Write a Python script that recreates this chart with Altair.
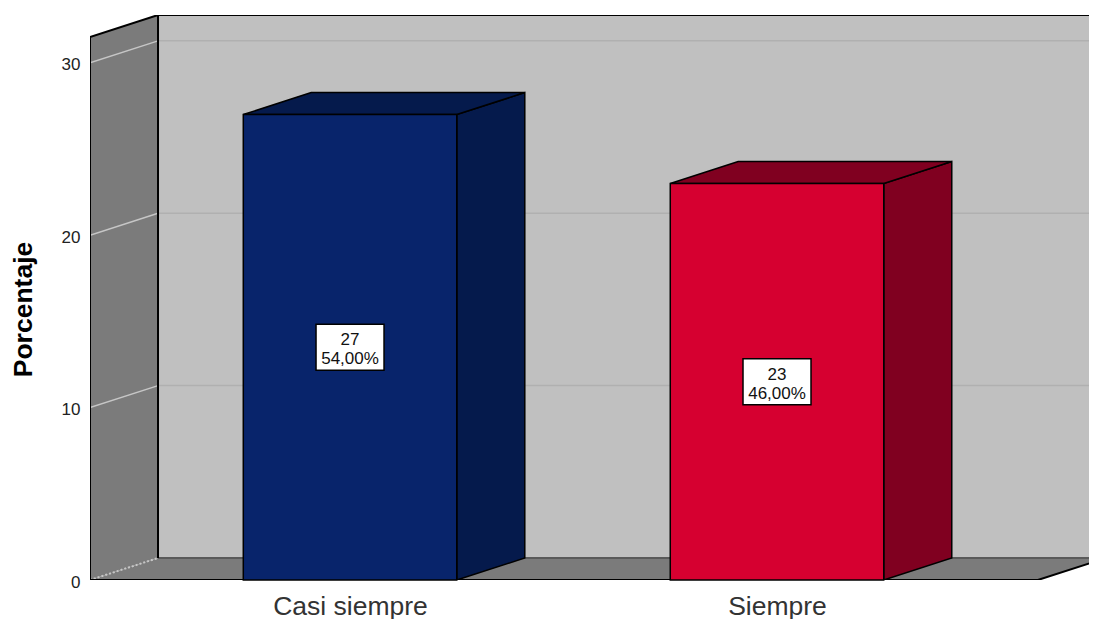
import altair as alt
import pandas as pd

# ---- chart values ----
categories = ["Casi siempre", "Siempre"]
counts = [27, 23]
shares = ["54,00%", "46,00%"]
front_colors = ["#08246b", "#d60030"]
side_colors = ["#051a4c", "#800020"]
y_ticks = [0, 10, 20, 30]

# ---- scene extents, in axis units ----
X_MIN, X_MAX = -0.609, 1.7307
FLOOR_END = 1.611
Y_TOP_FRONT = 31.5
DX, DY = 0.1593, 1.277
HALF = 0.25
Y_MAX = Y_TOP_FRONT + DY

xs = alt.Scale(domain=[X_MIN, X_MAX], nice=False, zero=False)
ys = alt.Scale(domain=[0, Y_MAX], nice=False, zero=False)
label_expr = "datum.value == 0 ? '%s' : '%s'" % tuple(categories)
x_axis = alt.Axis(
    values=[0, 1], labelExpr=label_expr, domain=False, ticks=False, grid=False,
    labelFontSize=26.5, labelFont="Liberation Sans", labelColor="#333333",
    labelPadding=34, title=None, labelBaseline="alphabetic")
y_axis = alt.Axis(
    values=y_ticks, format="d", domain=False, ticks=False, grid=False,
    labelFontSize=17, labelFont="Liberation Sans", labelColor="#222222",
    labelPadding=10, labelOffset=2, title="Porcentaje", titleFontSize=26.5,
    titleFont="Liberation Sans", titleFontWeight="bold", titleColor="#000000",
    titleX=-59, titleY=294, titleBaseline="alphabetic", titleAlign="center")
X = alt.X("x:Q", scale=xs, axis=x_axis)
Y = alt.Y("y:Q", scale=ys, axis=y_axis)


def vpoly(x0, x1, y0a, y0b, y1a, y1b, color, stroke=None, sw=1.5):
    """Parallelogram with vertical end edges."""
    df = pd.DataFrame({"x": [x0, x1], "y": [y0a, y0b], "y2": [y1a, y1b]})
    kw = {"stroke": stroke, "strokeWidth": sw} if stroke else {}
    return alt.Chart(df).mark_area(color=color, clip=True, **kw).encode(
        x=X, y=Y, y2="y2:Q")


def hpoly(y0, y1, x0a, x0b, x1a, x1b, color, stroke=None, sw=1.5):
    """Parallelogram with horizontal end edges."""
    df = pd.DataFrame({"y": [y0, y1], "x": [x0a, x0b], "x2": [x1a, x1b]})
    kw = {"stroke": stroke, "strokeWidth": sw} if stroke else {}
    return alt.Chart(df).mark_area(color=color, orient="horizontal", clip=True, **kw).encode(
        x=X, y=Y, x2="x2:Q")


def seg(points, color="#000000", width=2.0, dash=None):
    df = pd.DataFrame(points, columns=["x", "y"])
    df["o"] = range(len(df))
    kw = {"strokeDash": dash} if dash else {}
    return alt.Chart(df).mark_line(color=color, strokeWidth=width, clip=True, **kw).encode(
        x=X, y=Y, order="o:Q")


WALL = "#c0c0c0"
SIDE = "#7b7b7b"
layers = []

# Back wall
wall_df = pd.DataFrame({"x": [X_MIN + DX], "x2": [X_MAX], "y": [DY], "y2": [Y_MAX]})
layers.append(alt.Chart(wall_df).mark_rect(color=WALL, clip=True).encode(
    x=X, x2="x2:Q", y=Y, y2="y2:Q"))

# Left wall and floor
layers.append(vpoly(X_MIN, X_MIN + DX, 0, DY, Y_TOP_FRONT, Y_MAX, SIDE))
layers.append(hpoly(0, DY, X_MIN, X_MIN + DX, FLOOR_END, FLOOR_END + DX, SIDE))

# Grid lines
for t in y_ticks[1:]:
    layers.append(seg([(X_MIN + DX, t + DY), (X_MAX, t + DY)], "#b0b0b0", 1.5))
    layers.append(seg([(X_MIN, t), (X_MIN + DX, t + DY)], "#c6c6c6", 1.5))
layers.append(seg([(X_MIN, 0), (X_MIN + DX, DY)], "#c6c6c6", 2, [2, 2]))

# Scene edges
layers.append(seg([(X_MIN + DX, DY), (X_MAX, DY)], "#5a5a5a", 2))
layers.append(seg([(X_MIN + DX, DY), (X_MIN + DX, Y_MAX), (X_MAX, Y_MAX)]))
layers.append(seg([(X_MIN + DX, Y_MAX), (X_MIN, Y_TOP_FRONT), (X_MIN, 0), (FLOOR_END, 0),
                   (FLOOR_END + DX, DY)]))

# Bars
for i, (v, fc, sc) in enumerate(zip(counts, front_colors, side_colors)):
    l, r = i - HALF, i + HALF
    layers.append(vpoly(r, r + DX, 0, DY, v, v + DY, sc, "#000000"))
    layers.append(hpoly(v, v + DY, l, l + DX, r, r + DX, sc, "#000000"))
    bar = pd.DataFrame({"x": [l], "x2": [r], "y": [0], "y2": [v]})
    layers.append(alt.Chart(bar).mark_rect(color=fc, stroke="#000000", strokeWidth=1.5).encode(
        x=X, x2="x2:Q", y=Y, y2="y2:Q"))

# Value boxes
boxes = pd.DataFrame({
    "x": [0, 1],
    "y": [c / 2 for c in counts],
    "text": [[str(c), s] for c, s in zip(counts, shares)],
})
layers.append(alt.Chart(boxes).mark_rect(
    color="#ffffff", stroke="#000000", strokeWidth=1.5, width=68, height=46
).encode(x=X, y=Y))
layers.append(alt.Chart(boxes).mark_text(
    font="Liberation Sans", fontSize=17, color="#111111", lineHeight=19, baseline="middle",
    align="center", dy=-7
).encode(x=X, y=Y, text="text:N"))

chart = alt.layer(*layers).properties(
    width=999, height=565,
    autosize=alt.AutoSizeParams(type="none"),
    padding={"left": 82, "top": 7, "right": 0, "bottom": 39},
    background="#ffffff",
).configure_view(stroke=None)

chart.save("out.html", embed_options={"renderer": "svg", "actions": False})
